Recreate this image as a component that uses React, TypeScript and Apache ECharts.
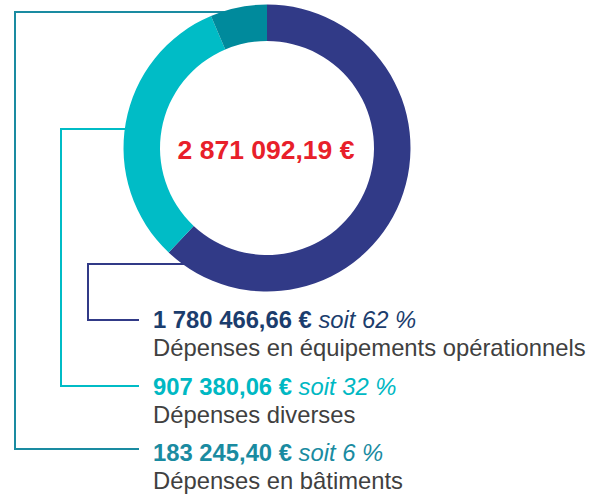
import React, { useEffect, useRef } from "react";
import * as echarts from "echarts";

const categories = [
  "Dépenses en équipements opérationnels",
  "Dépenses diverses",
  "Dépenses en bâtiments",
];
const amounts = [1780466.66, 907380.06, 183245.4];
const amountLabels = ["1 780 466,66 €", "907 380,06 €", "183 245,40 €"];
const percentLabels = ["soit 62 %", "soit 32 %", "soit 6 %"];
const totalLabel = "2 871 092,19 €";

const ringColors = ["#313a87", "#00bcc6", "#008a9c"];
const textColors = ["#1b3d6d", "#00b8c3", "#1a8ba1"];
const lineColors = ["#313a87", "#00bcc6", "#1a8ba1"];

const FONT = "'Liberation Sans', Arial, sans-serif";
const FS = 23.8;

// leader lines geometry (layout only)
const leaders = [
  [[186, 264], [88, 264], [88, 320], [139, 320]],
  [[128, 129], [61, 129], [61, 386], [139, 386]],
  [[241, 12], [15, 12], [15, 449], [139, 449]],
];
const line1Y = [319.5, 386.3, 452.9];
const line2Y = [347, 414.5, 480];

export default function App() {
  const ref = useRef<HTMLDivElement>(null);
  useEffect(() => {
    if (!ref.current) return;
    const chart = echarts.init(ref.current, undefined, { renderer: "svg" });
    const graphic: any[] = [];
    leaders.forEach((pts, i) => {
      graphic.push({
        type: "polyline",
        z: 0,
        shape: { points: pts },
        style: { stroke: lineColors[i], lineWidth: 2, fill: null },
      });
    });
    categories.forEach((cat, i) => {
      graphic.push({
        type: "text",
        z: 10,
        x: 153,
        y: line1Y[i],
        style: {
          text: `{a|${amountLabels[i]}\u00a0}{b|${percentLabels[i]}}`,
          verticalAlign: "middle",
          align: "left",
          rich: {
            a: { fontFamily: FONT, fontSize: FS, fontWeight: "bold", fill: textColors[i], color: textColors[i] },
            b: { fontFamily: FONT, fontSize: FS, fontStyle: "italic", fill: textColors[i], color: textColors[i] },
          },
        },
      });
      graphic.push({
        type: "text",
        z: 10,
        x: 153,
        y: line2Y[i],
        style: {
          text: cat,
          fontFamily: FONT,
          fontSize: FS,
          fill: "#404040",
          verticalAlign: "middle",
          align: "left",
        },
      });
    });
    graphic.push({
      type: "text",
      z: 10,
      x: 266,
      y: 150,
      style: {
        text: totalLabel,
        fontFamily: FONT,
        fontSize: 26.5,
        fontWeight: "bold",
        fill: "#e8202a",
        align: "center",
        verticalAlign: "middle",
      },
    });

    chart.setOption({
      animation: false,
      backgroundColor: "#ffffff",
      graphic,
      series: [
        {
          type: "pie",
          z: 2,
          center: [267, 148],
          radius: [107, 143.5],
          startAngle: 90,
          clockwise: true,
          label: { show: false },
          labelLine: { show: false },
          emphasis: { disabled: true },
          itemStyle: { borderWidth: 0 },
          data: amounts.map((v, i) => ({
            value: v,
            name: categories[i],
            itemStyle: { color: ringColors[i] },
          })),
        },
      ],
    });
    return () => chart.dispose();
  }, []);
  return (
    <div
      ref={ref}
      style={{ position: "absolute", left: 0, top: 0, width: 608, height: 497 }}
    />
  );
}
